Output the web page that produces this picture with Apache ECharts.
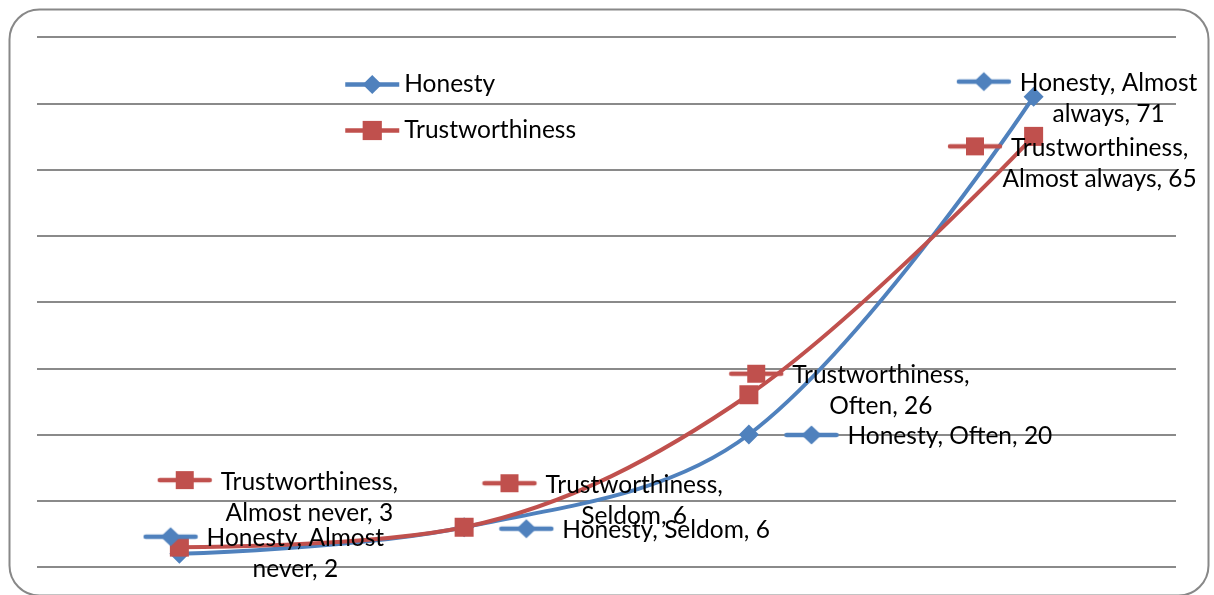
<!DOCTYPE html>
<html><head><meta charset="utf-8">
<style>html,body{margin:0;padding:0;background:#fff}#c{width:1214px;height:595px}</style>
<script src="https://cdn.jsdelivr.net/npm/echarts@6/dist/echarts.min.js"></script>
</head><body><div id="c"></div>
<script>
const categories = ['Almost never', 'Seldom', 'Often', 'Almost always'];
const honesty = [2, 6, 20, 71];
const trustworthiness = [3, 6, 26, 65];
const yTicks = [0, 10, 20, 30, 40, 50, 60, 70, 80];
// label layout per point: [dx, dy, words on first line (0 = single line)]
const honestyLabelLayout = [[84, 0, 2], [170, 3, 0], [169, 2, 0], [43, 2, 2]];
const trustLabelLayout = [[98, -50, 1], [138, -27, 1], [100, -4, 1], [34, 27, 1]];

const FONT = 'Lato';
const FS = 24.5;
const BLUE = '#4F81BD';
const RED = '#C0504D';

function makeKey(color, shape) {
  const c = document.createElement('canvas');
  c.width = 64; c.height = 31;
  const g = c.getContext('2d');
  g.strokeStyle = color; g.lineWidth = 4.5; g.lineCap = 'round';
  g.beginPath(); g.moveTo(3, 14); g.lineTo(53, 14); g.stroke();
  g.fillStyle = color;
  if (shape === 'diamond') {
    g.beginPath(); g.moveTo(28, 4.5); g.lineTo(38, 14); g.lineTo(28, 23.5); g.lineTo(18, 14); g.closePath(); g.fill();
  } else {
    g.fillRect(19, 5, 18, 18);
  }
  return c;
}

function makeSeries(name, values, color, shape, layout) {
  const key = makeKey(color, shape);
  return {
    name: name,
    type: 'line',
    smooth: 0.35,
    symbol: shape === 'diamond' ? 'diamond' : 'rect',
    symbolSize: shape === 'diamond' ? 20 : 19,
    lineStyle: { color: color, width: 4 },
    itemStyle: { color: color, borderWidth: 0 },
    data: values.map((v, i) => ({
      value: v,
      label: { offset: [layout[i][0], layout[i][1]] }
    })),
    label: {
      show: true,
      position: 'inside',
      align: 'center',
      verticalAlign: 'middle',
      formatter: function (p) {
        const words = (p.seriesName + ', ' + categories[p.dataIndex] + ', ' + p.value).split(' ');
        const n = layout[p.dataIndex][2];
        if (!n) return '{key|}{t|' + words.join(' ') + '}';
        return '{key|}{t|' + words.slice(0, n).join(' ') + '}\n{sp|}{t|' + words.slice(n).join(' ') + '}';
      },
      rich: {
        key: { width: 64, height: 31, align: 'center', backgroundColor: { image: key } },
        sp: { width: 64, height: 31, align: 'center' },
        t: { fontFamily: FONT, fontSize: FS, color: '#000', lineHeight: 31, align: 'center' }
      }
    }
  };
}

const chart = echarts.init(document.getElementById('c'), null, { renderer: 'canvas' });
chart.setOption({
  animation: false,
  backgroundColor: '#fff',
  graphic: [{
    type: 'rect', left: 7, top: 7,
    shape: { width: 1199, height: 586, r: 30 },
    style: { fill: 'none', stroke: '#888', lineWidth: 2 },
    silent: true, z: -1
  }],
  legend: {
    orient: 'vertical', left: 338, top: 67,
    itemWidth: 54, itemHeight: 24, itemGap: 21,
    textStyle: { fontFamily: FONT, fontSize: FS, color: '#000' },
    lineStyle: { width: 4.5 },
    data: ['Honesty', 'Trustworthiness']
  },
  grid: { left: 37, right: 38, top: 37, bottom: 28, containLabel: false },
  xAxis: {
    type: 'category', data: categories, boundaryGap: true,
    axisLine: { show: false }, axisTick: { show: false }, axisLabel: { show: false }
  },
  yAxis: {
    type: 'value', min: yTicks[0], max: yTicks[yTicks.length - 1], interval: yTicks[1] - yTicks[0],
    axisLine: { show: false }, axisTick: { show: false }, axisLabel: { show: false },
    splitLine: { lineStyle: { color: '#8a8a8a', width: 2 } }
  },
  series: [
    makeSeries('Honesty', honesty, BLUE, 'diamond', honestyLabelLayout),
    makeSeries('Trustworthiness', trustworthiness, RED, 'square', trustLabelLayout)
  ]
});
</script>
</body></html>
